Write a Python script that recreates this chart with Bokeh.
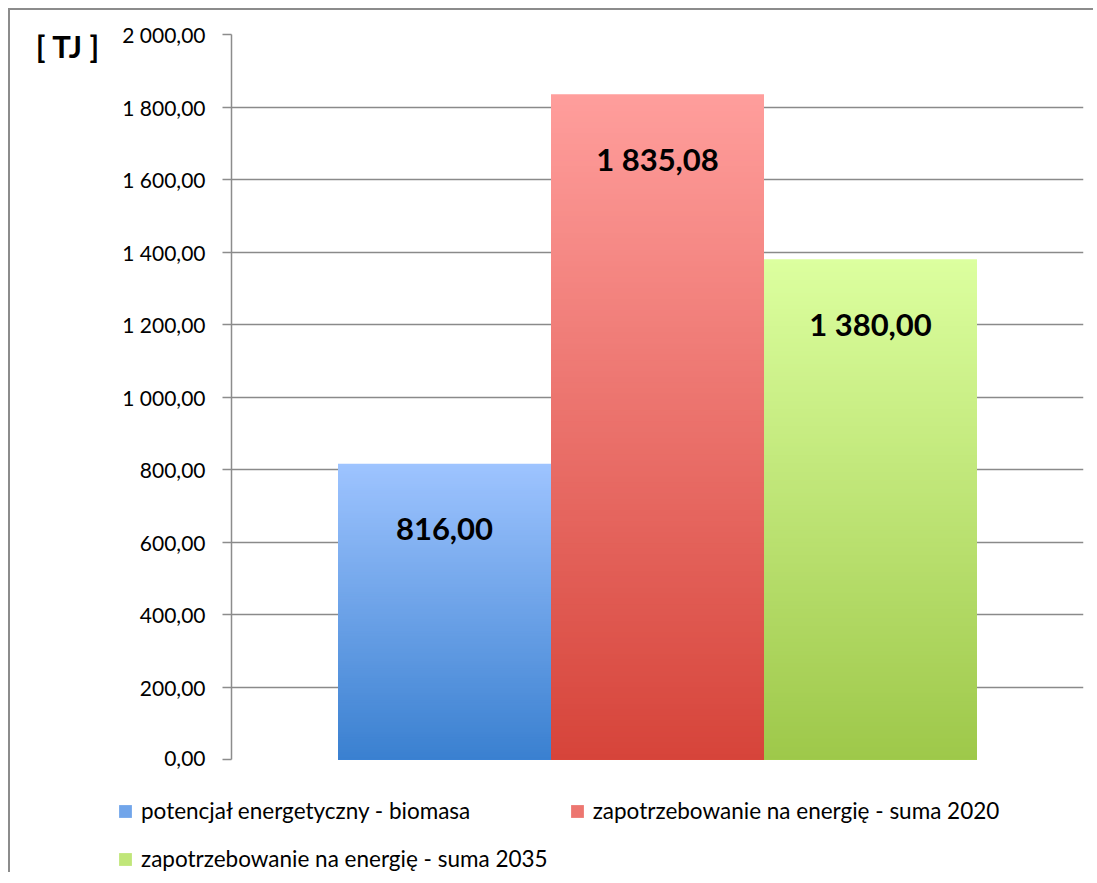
from bokeh.plotting import figure
from bokeh.layouts import column
from bokeh.models import (ColumnDataSource, FactorRange, Range1d, FixedTicker,
                          Legend, LegendItem)
from bokeh.core.properties import value
from bokeh.embed import file_html
from bokeh.resources import INLINE

# ---- data ----
series = ["potencjał energetyczny - biomasa",
          "zapotrzebowanie na energię - suma 2020",
          "zapotrzebowanie na energię - suma 2035"]
values = [816.00, 1835.08, 1380.00]
value_labels = ["816,00", "1 835,08", "1 380,00"]
y_ticks = [0, 200, 400, 600, 800, 1000, 1200, 1400, 1600, 1800, 2000]
y_tick_labels = ["0,00", "200,00", "400,00", "600,00", "800,00", "1 000,00",
                 "1 200,00", "1 400,00", "1 600,00", "1 800,00", "2 000,00"]
unit_label = "[ TJ ]"

# ---- styles ----
top_colors = [(0x9E, 0xC4, 0xFF), (0xFF, 0x9E, 0x9C), (0xDC, 0xFF, 0x9F)]
bottom_colors = [(0x3A, 0x80, 0xD0), (0xD6, 0x44, 0x3A), (0x9E, 0xC8, 0x4A)]
FONT = "Lato"
N = 120


def lerp(c0, c1, t):
    return "#%02x%02x%02x" % tuple(int(round(a + (b - a) * t)) for a, b in zip(c0, c1))


p = figure(width=1083, height=759, output_backend="svg", toolbar_location=None,
           x_range=FactorRange(factors=series, range_padding=1/3),
           y_range=Range1d(0, 2000),
           min_border_left=221, min_border_top=24, min_border_right=10,
           min_border_bottom=10)
p.outline_line_color = None
p.xaxis.visible = False
p.xgrid.visible = False

yax = p.yaxis[0]
yax.ticker = FixedTicker(ticks=y_ticks)
yax.major_label_overrides = {t: l for t, l in zip(y_ticks, y_tick_labels)}
yax.major_label_text_font = FONT
yax.major_label_text_font_size = "21px"
yax.major_label_text_color = "#000000"
yax.major_label_standoff = 17
yax.major_tick_out = 9
yax.major_tick_in = 0
yax.minor_tick_line_color = None
yax.axis_line_color = "#8c8c8c"
yax.axis_line_width = 1.5
yax.major_tick_line_color = "#8c8c8c"
yax.major_tick_line_width = 1.5
yax.axis_label = "\n" + unit_label
yax.axis_label_orientation = "horizontal"
yax.axis_label_text_font = FONT
yax.axis_label_text_font_style = "bold"
yax.axis_label_text_font_size = "31px"
yax.axis_label_text_color = "#000000"
yax.axis_label_text_line_height = 0.6
yax.axis_label_standoff = 19
yax.axis_label_align = "end"

p.ygrid.ticker = FixedTicker(ticks=y_ticks)
p.ygrid.grid_line_color = "#8a8a8a"
p.ygrid.grid_line_width = 1.5

# gradient bars: full-height layers from the bar's own value down, tallest first
for i, (s, v) in enumerate(zip(series, values)):
    ks = list(range(N - 1, -1, -1))
    tops = [v * (k + 1) / N for k in ks]
    cols = [lerp(bottom_colors[i], top_colors[i], (k + 0.5) / N) for k in ks]
    src = ColumnDataSource(dict(x=[s] * N, top=tops, color=cols))
    p.vbar(x="x", bottom=0, top="top", width=1.0, source=src,
           fill_color="color", line_color=None)

lab_src = ColumnDataSource(dict(x=series, y=values, t=value_labels))
p.text(x="x", y="y", text="t", source=lab_src, text_font=value(FONT),
       text_font_style="bold", text_font_size="31px", text_align="center",
       text_baseline="middle", y_offset=65, text_color="#000000")

# ---- legend strip below the chart ----
pl = figure(width=1083, height=103, output_backend="svg", toolbar_location=None,
            x_range=Range1d(0, 1), y_range=Range1d(0, 1),
            x_axis_location=None, y_axis_location=None,
            min_border=0, outline_line_color=None)
try:
    pl.frame_align = False
except Exception as e:
    print("frame_align unavailable:", e)
pl.xgrid.visible = False
pl.ygrid.visible = False
leg_renderers = []
for i, s in enumerate(series):
    r = pl.vbar(x=[-5.0], top=[-5.0], width=0.1,
                fill_color=lerp(bottom_colors[i], top_colors[i], 0.55),
                line_color=None)
    leg_renderers.append(r)
items = [LegendItem(label=s, renderers=[r]) for s, r in zip(series, leg_renderers)]
# legend fills column by column: order so that it reads row by row
items = [items[0], items[2], items[1]]
legend = Legend(items=items, ncols=2, location=(107, 0), margin=0,
                label_text_font=FONT, label_text_font_size="22.5px",
                label_text_color="#000000", glyph_width=16, glyph_height=16,
                label_height=26, label_width=405, label_standoff=8, spacing=21,
                padding=0, border_line_color=None, background_fill_alpha=0)
pl.add_layout(legend, "center")

layout = column(p, pl, spacing=0,
                styles={"border-left": "2px solid #8c8c8c",
                        "border-top": "2px solid #8c8c8c",
                        "margin-left": "8px", "margin-top": "8px"})
open("out.html", "w").write(file_html(layout, INLINE))
